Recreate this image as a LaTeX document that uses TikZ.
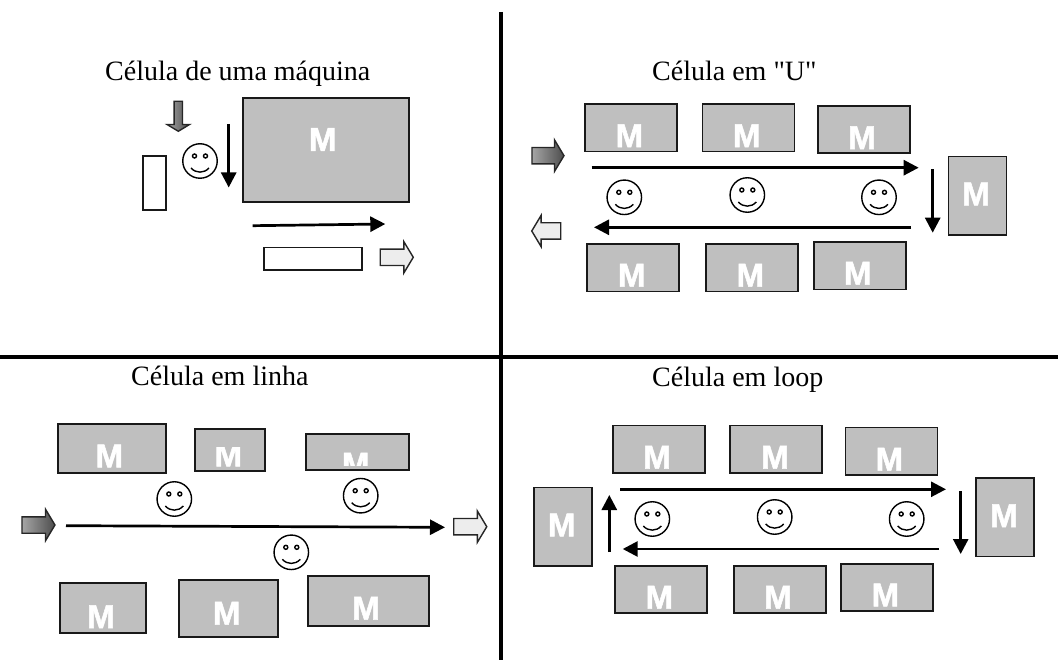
\documentclass[tikz,border=0pt]{standalone}
\usepackage{fontspec}
\newfontfamily\titlefont{Liberation Serif}
\newfontfamily\machfont[FakeBold=1.6]{Liberation Sans Bold}
\usetikzlibrary{arrows.meta,shapes.arrows}

\begin{document}
\begin{tikzpicture} [
    x=1pt, y=-1pt,
    title/.style={anchor=base west, inner sep=0pt, font=\titlefont\fontsize{28}{32}\selectfont},
    machine/.style={rectangle, draw=black!90, fill=black!25, line width=1.8pt, inner sep=0pt},
    wide/.style={machine, minimum width=92pt, minimum height=47.5pt},
    tall/.style={machine, minimum width=58pt, minimum height=78.5pt},
    mlabel/.style={inner sep=0pt, text=white, font=\machfont\fontsize{33}{33}\selectfont},
    bin/.style={rectangle, draw=black!90, fill=white, line width=1.8pt, inner sep=0pt},
    blockarrow/.style={single arrow, draw=black!85, line width=1.4pt, inner xsep=0pt, inner ysep=7.5pt,
        single arrow head extend=7.5pt, single arrow tip angle=118, minimum height=32pt},
    inflow/.style={blockarrow, left color=black!35, right color=black!70},
    outflow/.style={blockarrow, fill=black!7},
    face/.style={circle, draw=black, line width=1.4pt, minimum size=34.5pt, inner sep=0pt, path picture={
        \begin{scope}[shift={(path picture bounding box.center)}, line width=1.4pt]
            \draw (-5.5,-5) circle (2);
            \draw (5.5,-5) circle (2);
            \draw (-9,7) .. controls (-4,12.5) and (4,12.5) .. (9,7);
        \end{scope}}},
    divider/.style={line width=4pt, black},
    flow/.style={line width=2.7pt, -{Triangle[length=15pt,width=15pt]}},
    ]
    \useasboundingbox (0,0) rectangle (1058,660);

    %Titles

    \node[title] (tone)  at (105,81)  {Célula de uma máquina};
    \node[title] (tu)    at (652,81)  {Célula em "U"};
    \node[title] (tline) at (131,385) {Célula em linha};
    \node[title] (tloop) at (652,386) {Célula em loop};

    %Dividers

    \coordinate (vtop) at (501,12);
    \coordinate (vbot) at (501,660);
    \coordinate (hleft) at (0,357.5);
    \coordinate (hright) at (1058,357.5);
    \draw[divider] (vtop) -- (vbot);
    \draw[divider] (hleft) -- (hright);

    %One machine cell

    \node[machine, minimum width=166.5pt, minimum height=104pt] (big) at (326,150.3) {};
    \node[mlabel] (bigm) at (322.7,139.5) {M};
    \node[bin, minimum width=23pt, minimum height=53.5pt] (binl) at (154.5,183) {};
    \node[bin, minimum width=98pt, minimum height=22.5pt] (binb) at (313,258.7) {};
    \node[inflow, shape border rotate=270, minimum height=30pt, inner xsep=3.5pt, inner ysep=0pt, single arrow head extend=7pt, shading angle=90] (onein) at (178.3,115) {};
    \node[outflow, minimum height=33pt] (oneout) at (394.3,257.3) {};
    \node[face] (onef) at (200,161) {};
    \coordinate (ones) at (228.7,124);
    \coordinate (onee) at (228.7,187.5);
    \coordinate (twos) at (252.7,225.7);
    \coordinate (twoe) at (385.3,224);
    \draw[flow] (ones) -- (onee);
    \draw[flow] (twos) -- (twoe);

    %U cell

    \node[wide] (ua) at (631.2,127.8) {};
    \node[mlabel] (uam) at (629.3,135.7) {M};
    \node[wide] (ub) at (748.5,127.8) {};
    \node[mlabel] (ubm) at (746.7,135.7) {M};
    \node[wide] (uc) at (863.8,129.5) {};
    \node[mlabel] (ucm) at (862,137.7) {M};
    \node[tall] (ur) at (977.5,195.8) {};
    \node[mlabel] (urm) at (976,194) {M};
    \node[wide] (ud) at (633.3,267.7) {};
    \node[mlabel] (udm) at (631.7,275.3) {M};
    \node[wide] (ue) at (752.3,267.7) {};
    \node[mlabel] (uem) at (750.3,275.3) {M};
    \node[wide] (uf) at (859.7,265.8) {};
    \node[mlabel] (ufm) at (857.7,273.3) {M};
    \node[inflow] (uin) at (545.5,155.7) {};
    \node[outflow, shape border rotate=180, minimum height=29pt] (uout) at (548.7,231) {};
    \node[face] (ufa) at (624.3,197.3) {};
    \node[face] (ufb) at (747.3,195) {};
    \node[face] (ufc) at (879,197.3) {};
    \coordinate (utops) at (591.7,167.7);
    \coordinate (utope) at (918.7,167.7);
    \coordinate (urs) at (932.7,169.3);
    \coordinate (ure) at (932.7,232.7);
    \coordinate (ubots) at (911,227.3);
    \coordinate (ubote) at (594,227.3);
    \draw[flow] (utops) -- (utope);
    \draw[flow] (urs) -- (ure);
    \draw[flow] (ubots) -- (ubote);

    %Line cell

    \node[machine, minimum width=108.3pt, minimum height=49.3pt] (la) at (111.8,448.3) {};
    \node[mlabel] (lam) at (109.3,456) {M};
    \node[machine, minimum width=70pt, minimum height=42pt] (lb) at (230,450.3) {};
    \begin{scope}
        \clip (195,447.7) rectangle (265,471);
        \node[mlabel] (lbm) at (228.3,455) {M};
    \end{scope}
    \node[machine, minimum width=103.6pt, minimum height=35.7pt] (lc) at (357.5,452.2) {};
    \begin{scope}
        \clip (305,440) rectangle (410,465.7);
        \node[mlabel] (lcm) at (355.7,464.2) {M};
    \end{scope}
    \node[machine, minimum width=85.7pt, minimum height=49.4pt] (ld) at (102.8,608) {};
    \node[mlabel] (ldm) at (101,616.7) {M};
    \node[machine, minimum width=99.3pt, minimum height=56.7pt] (le) at (228.7,608.3) {};
    \node[mlabel] (lem) at (226.7,613.3) {M};
    \node[machine, minimum width=121.3pt, minimum height=49.4pt] (lf) at (368.7,601) {};
    \node[mlabel] (lfm) at (366,608.3) {M};
    \node[inflow, minimum height=33pt] (lin) at (36,525) {};
    \node[outflow, minimum height=33pt] (lout) at (467.8,526.7) {};
    \node[face] (lfa) at (174.3,499) {};
    \node[face] (lfb) at (360.7,495.7) {};
    \node[face] (lfc) at (291.3,552.3) {};
    \coordinate (lines) at (66,525.7);
    \coordinate (linee) at (445,527.3);
    \draw[flow] (lines) -- (linee);

    %Loop cell

    \node[wide] (pa) at (659,449.3) {};
    \node[mlabel] (pam) at (657,457.3) {M};
    \node[wide] (pb) at (776.3,449.3) {};
    \node[mlabel] (pbm) at (775,457.3) {M};
    \node[wide] (pc) at (891.5,451.3) {};
    \node[mlabel] (pcm) at (889.3,459.3) {M};
    \node[tall] (pl) at (563,526.7) {};
    \node[mlabel] (plm) at (561.7,525) {M};
    \node[tall] (pr) at (1005.3,517.3) {};
    \node[mlabel] (prm) at (1004,515.7) {M};
    \node[wide] (pd) at (661.2,589.5) {};
    \node[mlabel] (pdm) at (659.3,597.3) {M};
    \node[wide] (pe) at (780.2,589.5) {};
    \node[mlabel] (pem) at (778,597.3) {M};
    \node[wide] (pf) at (887.3,587.5) {};
    \node[mlabel] (pfm) at (885.3,595) {M};
    \node[face] (pfa) at (652.3,519) {};
    \node[face] (pfb) at (774.7,517) {};
    \node[face] (pfc) at (906.7,519) {};
    \coordinate (pups) at (609.3,552);
    \coordinate (pupe) at (609.3,495);
    \coordinate (ptops) at (620,489.3);
    \coordinate (ptope) at (946,489.3);
    \coordinate (pdowns) at (960.7,491);
    \coordinate (pdowne) at (960.7,554);
    \coordinate (pbots) at (939,549);
    \coordinate (pbote) at (622.7,549);
    \draw[flow] (pups) -- (pupe);
    \draw[flow] (ptops) -- (ptope);
    \draw[flow] (pdowns) -- (pdowne);
    \draw[flow] (pbots) -- (pbote);
\end{tikzpicture}
\end{document}
